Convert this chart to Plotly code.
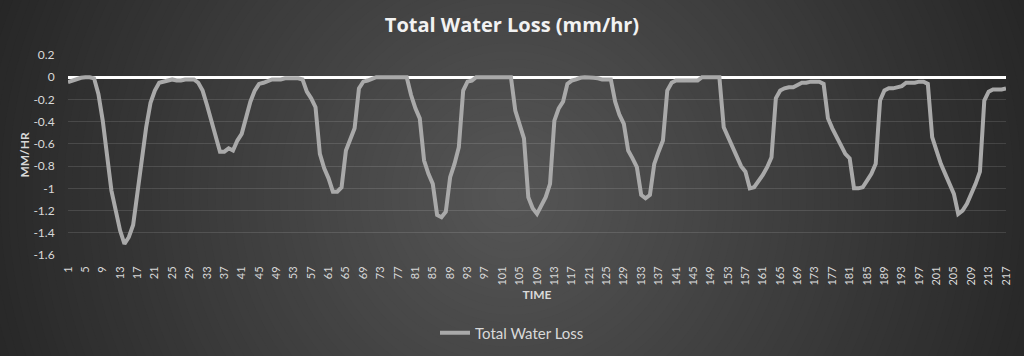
import plotly.graph_objects as go

# ---- data ----
time_idx = list(range(1, 218))
water_loss = [
    -0.045, -0.03, -0.015, -0.005, 0.0, 0.0, -0.01, -0.15, -0.39, -0.72,
    -1.02, -1.20, -1.38, -1.50, -1.44, -1.33, -1.05, -0.72, -0.45, -0.23,
    -0.12, -0.05,
    -0.04, -0.03, -0.02, -0.03, -0.03, -0.02, -0.02, -0.02, -0.05, -0.12,
    -0.25, -0.40, -0.54, -0.67, -0.67, -0.64, -0.66, -0.57, -0.51, -0.36,
    -0.22, -0.12, -0.06, -0.05, -0.03,
    -0.02, -0.02, -0.02, -0.01, -0.01, -0.01, -0.01, -0.02, -0.13, -0.19,
    -0.27, -0.69, -0.82, -0.91, -1.03, -1.03, -0.99, -0.66, -0.55, -0.46,
    -0.10, -0.04, -0.03, -0.01,
    0.0, 0.0, 0.0, 0.0, 0.0, 0.0, 0.0, 0.0,
    -0.16, -0.28, -0.37, -0.75, -0.87, -0.96, -1.24, -1.26, -1.21, -0.90,
    -0.78, -0.63, -0.12, -0.04, -0.03,
    0.0, 0.0, 0.0, 0.0, 0.0, 0.0, 0.0, 0.0, 0.0,
    -0.30, -0.42, -0.55, -1.08, -1.18, -1.23, -1.16, -1.08, -0.96, -0.39,
    -0.28, -0.22, -0.06, -0.03, -0.02,
    -0.005, 0.0, 0.0, -0.005, -0.01, -0.02, -0.02, -0.02, -0.22, -0.34,
    -0.42, -0.66, -0.73, -0.81, -1.06, -1.09, -1.06, -0.78, -0.67, -0.57,
    -0.12, -0.05, -0.03,
    -0.03, -0.03, -0.03, -0.03, -0.03, 0.0, 0.0, 0.0, 0.0, 0.0,
    -0.45, -0.54, -0.63, -0.72, -0.80, -0.85, -1.00, -0.99, -0.94, -0.88,
    -0.81, -0.72, -0.19, -0.12, -0.10, -0.09, -0.09, -0.07, -0.05, -0.05,
    -0.04, -0.04, -0.04, -0.06,
    -0.37, -0.46, -0.54, -0.61, -0.69, -0.73, -1.00, -1.00, -0.99, -0.93,
    -0.87, -0.78, -0.21, -0.12, -0.10, -0.10, -0.09, -0.08, -0.05, -0.05,
    -0.05, -0.04, -0.04, -0.06,
    -0.54, -0.66, -0.78, -0.87, -0.97, -1.05, -1.23, -1.20, -1.14, -1.06,
    -0.96, -0.85, -0.21, -0.13, -0.11, -0.11, -0.11, -0.10,
]
x_tick_vals = list(range(1, 218, 4))
x_tick_text = [str(v) for v in x_tick_vals]
y_tick_vals = [0.2, 0, -0.2, -0.4, -0.6, -0.8, -1, -1.2, -1.4, -1.6]
y_tick_text = ["0.2", "0", "-0.2", "-0.4", "-0.6", "-0.8", "-1", "-1.2", "-1.4", "-1.6"]
series_name = "Total Water Loss"
title_text = "Total Water Loss (mm/hr)"

# ---- layout geometry ----
W, H = 1024, 356
ML, MR, MT, MB = 68, 16, 55, 101
PW, PH = W - ML - MR, H - MT - MB

# radial gradient background built from concentric circles
shapes = []
cx, cy = 512, 195
c_center, c_edge, r_edge = 86, 38, 560
step = 8
r = r_edge + 40
while r > 0:
    frac = min(r / r_edge, 1.0)
    g = int(round(c_center + (c_edge - c_center) * frac))
    col = f"rgb({g},{g},{g})"
    shapes.append(dict(
        type="circle", xref="paper", yref="paper", layer="below",
        x0=(cx - r - ML) / PW, x1=(cx + r - ML) / PW,
        y0=(H - MB - (cy + r)) / PH, y1=(H - MB - (cy - r)) / PH,
        fillcolor=col, line=dict(width=0),
    ))
    r -= step

fig = go.Figure()
fig.add_trace(go.Scatter(
    x=time_idx, y=water_loss, mode="lines", name=series_name,
    line=dict(color="#a9a9a9", width=4),
))

font_family = "Lato, 'Open Sans', sans-serif"
fig.update_layout(
    width=W, height=H,
    margin=dict(l=ML, r=MR, t=MT, b=MB),
    paper_bgcolor="#262626",
    plot_bgcolor="rgba(0,0,0,0)",
    shapes=shapes,
    font=dict(family=font_family, color="#d9d9d9", size=12),
    title=dict(
        text="<b>" + title_text + "</b>", x=0.5, xref="container", xanchor="center",
        y=1 - 25 / H, yref="container", yanchor="middle",
        font=dict(size=20, color="#f2f2f2", family="'Open Sans', sans-serif"),
    ),
    showlegend=True,
    legend=dict(
        orientation="h", x=0.5, xref="container", xanchor="center",
        y=1 - 333 / H, yref="container", yanchor="middle",
        font=dict(size=15, color="#d9d9d9"),
        bgcolor="rgba(0,0,0,0)",
    ),
    xaxis=dict(
        range=[1, 217], tickmode="array", tickvals=x_tick_vals, ticktext=x_tick_text,
        tickangle=-90, tickfont=dict(size=11, color="#d9d9d9"),
        showgrid=False, zeroline=False, showline=False,
        ticks="outside", ticklen=6, tickcolor="rgba(0,0,0,0)",
        title=dict(text="<b>TIME</b>", font=dict(size=12, color="#d9d9d9"), standoff=6),
    ),
    yaxis=dict(
        range=[-1.6, 0.2], tickmode="array", tickvals=y_tick_vals, ticktext=y_tick_text,
        tickfont=dict(size=12, color="#d9d9d9"),
        showgrid=True, gridcolor="rgba(255,255,255,0.12)", gridwidth=1,
        zeroline=True, zerolinecolor="#ffffff", zerolinewidth=3,
        showline=False,
        ticks="outside", ticklen=10, tickcolor="rgba(0,0,0,0)",
        title=dict(text="<b>MM/HR</b>", font=dict(size=12, color="#d9d9d9"), standoff=1),
    ),
)

fig.write_html(
    "out.html",
    config={"displayModeBar": False},
    post_script="document.body.style.margin='0';document.body.style.background='#262626';",
)
